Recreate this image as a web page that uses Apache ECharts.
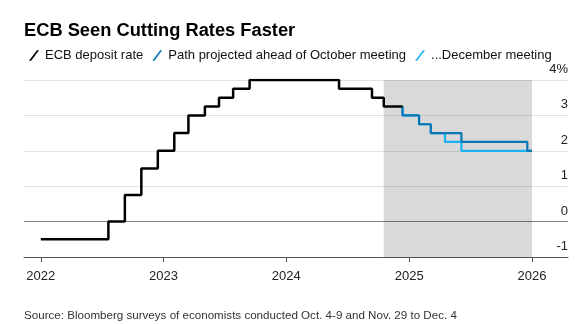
<!DOCTYPE html>
<html>
<head>
<meta charset="utf-8">
<script src="https://cdn.jsdelivr.net/npm/echarts@6/dist/echarts.min.js"></script>
<style>
  html, body { margin: 0; padding: 0; background: #fff; }
  #chart { width: 583px; height: 324px; }
</style>
</head>
<body>
<div id="chart"></div>
<script>
// ECB deposit rate by decision date (percent)
const depositDates = ['2022-01-01', '2022-07-21', '2022-09-08', '2022-10-27', '2022-12-15',
  '2023-02-02', '2023-03-16', '2023-05-04', '2023-06-15', '2023-07-27', '2023-09-14',
  '2024-06-06', '2024-09-12', '2024-10-17', '2024-12-12'];
const depositRates = [-0.5, 0, 0.75, 1.5, 2.0, 2.5, 3.0, 3.25, 3.5, 3.75, 4.0, 3.75, 3.5, 3.25, 3.25];

// Survey path ahead of the October meeting
const octDates = ['2024-12-12', '2024-12-12', '2025-01-30', '2025-03-06', '2025-06-05', '2025-12-18', '2026-01-01'];
const octRates = [3.25, 3.0, 2.75, 2.5, 2.25, 2.0, 2.0];

// Survey path ahead of the December meeting
const decDates = ['2024-12-12', '2024-12-12', '2025-01-30', '2025-03-06', '2025-04-17', '2025-06-05', '2026-01-01'];
const decRates = [3.25, 3.0, 2.75, 2.5, 2.25, 2.0, 2.0];

// Forecast window
const forecastStart = '2024-10-17';
const forecastEnd = '2026-01-01';

const yearTicks = [2022, 2023, 2024, 2025, 2026];
const rateTicks = [-1, 0, 1, 2, 3, 4];

const seriesNames = ['ECB deposit rate', 'Path projected ahead of October meeting', '...December meeting'];

const ts = s => new Date(s + 'T00:00:00').getTime();
const pairs = (dates, vals) => dates.map((d, i) => [ts(d), vals[i]]);
const yearStamps = yearTicks.map(y => ts(y + '-01-01'));

const slash = 'path://M0,10 L7.5,0 L9.5,0 L2,10 Z';

const chart = echarts.init(document.getElementById('chart'), null, { renderer: 'canvas' });
chart.setOption({
  animation: false,
  backgroundColor: '#ffffff',
  title: {
    text: 'ECB Seen Cutting Rates Faster',
    left: 19, top: 17,
    textStyle: { fontFamily: 'Liberation Sans', fontSize: 18.3, fontWeight: 'bold', color: '#000' }
  },
  legend: {
    left: 24, top: 44,
    itemWidth: 10, itemHeight: 11, itemGap: 9,
    icon: slash,
    data: seriesNames,
    textStyle: { fontFamily: 'Liberation Sans', fontSize: 13, color: '#111', padding: [0, 0, 0, 1] },
    selectedMode: false
  },
  graphic: [{
    type: 'text', left: 24, top: 310,
    style: {
      text: 'Source: Bloomberg surveys of economists conducted Oct. 4-9 and Nov. 29 to Dec. 4',
      font: '11.6px "Liberation Sans"', fill: '#333'
    }
  }],
  grid: { left: 24, right: 15, top: 80, bottom: 67, containLabel: false },
  xAxis: {
    type: 'value',
    min: ts('2021-11-12'),
    max: ts('2026-04-18'),
    axisLine: { onZero: false, lineStyle: { color: '#555', width: 1 } },
    axisTick: { show: true, length: 5, customValues: yearStamps, lineStyle: { color: '#555' } },
    axisLabel: {
      customValues: yearStamps,
      formatter: v => String(new Date(v).getFullYear()),
      margin: 13,
      fontFamily: 'Liberation Sans', fontSize: 13, color: '#222'
    },
    splitLine: { show: false }
  },
  yAxis: {
    type: 'value',
    position: 'right',
    min: rateTicks[0], max: rateTicks[rateTicks.length - 1], interval: 1,
    axisLine: { show: false },
    axisTick: { show: false },
    axisLabel: {
      inside: true, margin: 0,
      verticalAlign: 'bottom', align: 'right',
      padding: [0, 0, 4, 0],
      formatter: v => (v === rateTicks[rateTicks.length - 1] ? v + '%' : String(v)),
      fontFamily: 'Liberation Sans', fontSize: 13, color: '#222'
    },
    splitLine: {
      lineStyle: { color: ['#555', '#808080', '#e2e2e2', '#e2e2e2', '#e2e2e2', '#e2e2e2'], width: 1 }
    }
  },
  series: [
    {
      name: seriesNames[2],
      type: 'line', step: 'end', symbol: 'none',
      data: pairs(decDates, decRates),
      lineStyle: { color: '#1cb2f2', width: 2.2 },
      itemStyle: { color: '#1cb2f2' },
      markArea: {
        silent: true,
        itemStyle: { color: 'rgba(0,0,0,0.15)' },
        data: [[{ xAxis: ts(forecastStart) }, { xAxis: ts(forecastEnd) }]]
      }
    },
    {
      name: seriesNames[1],
      type: 'line', step: 'end', symbol: 'none',
      data: pairs(octDates, octRates),
      lineStyle: { color: '#0a76b4', width: 2.2 },
      itemStyle: { color: '#0a76b4' }
    },
    {
      name: seriesNames[0],
      type: 'line', step: 'end', symbol: 'none',
      data: pairs(depositDates, depositRates),
      lineStyle: { color: '#000', width: 2.5 },
      itemStyle: { color: '#000' }
    }
  ]
});
</script>
</body>
</html>
